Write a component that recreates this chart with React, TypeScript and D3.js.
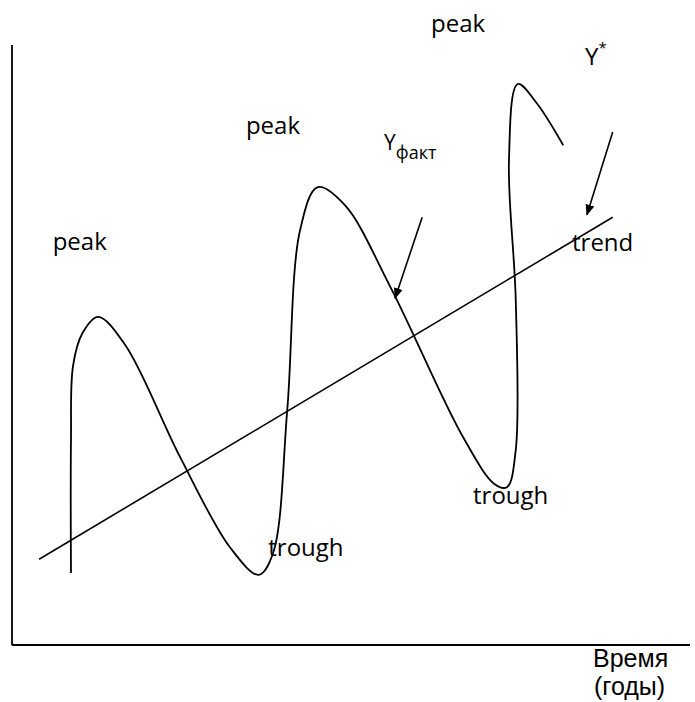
import React from "react";
import * as d3 from "d3";

const W = 695;
const H = 702;

// Business-cycle curve (time, level) in abstract units 0..100
const cycleTime = [8.7, 8.7, 9.0, 10.4, 12.7, 16.7, 24.8, 32.2, 36.4, 38.5, 40.6, 42.5, 45.1, 49.1, 55.8, 66.5, 71.2, 73.0, 74.3, 74.3, 73.3, 74.6, 77.4, 81.3];
const cycleLevel = [12.0, 34.2, 46.5, 52.0, 54.7, 50.0, 31.3, 16.2, 11.7, 15.3, 39.2, 69.2, 76.3, 73.3, 59.7, 34.7, 26.8, 26.3, 32.5, 57.5, 80.8, 93.5, 90.3, 83.3];

// Trend line endpoints
const trendTime = [4.0, 88.6];
const trendLevel = [14.3, 71.3];

// Arrows: [x1, y1, x2, y2]
const arrowYStar = [88.6, 85.5, 84.8, 71.7];
const arrowYFact = [60.5, 71.3, 56.5, 57.8];

// Labels [text, x, y]
const labelTexts = ["peak", "peak", "peak", "trough", "trough", "trend"];
const labelX = [6.0, 34.5, 61.8, 37.8, 68.0, 82.6];
const labelY = [65.8, 85.2, 102.2, 14.8, 23.5, 65.7];

const xScale = d3.scaleLinear().domain([0, 100]).range([12, 690]);
const yScale = d3.scaleLinear().domain([0, 100]).range([645, 45]);

export default function App() {
  const pts: [number, number][] = cycleTime.map((t, i) => [xScale(t), yScale(cycleLevel[i])]);
  const curvePath = d3.line().curve(d3.curveCatmullRom.alpha(0.5))(pts) || "";
  const font = "'Open Sans', sans-serif";
  const arrow = (a: number[]) => (
    <line
      x1={xScale(a[0])}
      y1={yScale(a[1])}
      x2={xScale(a[2])}
      y2={yScale(a[3])}
      stroke="#000"
      strokeWidth={1.6}
      markerEnd="url(#ah)"
    />
  );
  return (
    <svg width={W} height={H} style={{ position: "absolute", left: 0, top: 0, background: "#fff" }}>
      <defs>
        <marker id="ah" viewBox="0 0 10 10" refX="9" refY="5" markerWidth="7" markerHeight="7" orient="auto" markerUnits="strokeWidth">
          <path d="M0,1 L10,5 L0,9 Z" fill="#000" />
        </marker>
      </defs>
      {/* axes */}
      <line x1={xScale(0)} y1={yScale(0)} x2={xScale(0)} y2={yScale(100)} stroke="#000" strokeWidth={1.8} />
      <line x1={xScale(0)} y1={yScale(0)} x2={xScale(100)} y2={yScale(0)} stroke="#000" strokeWidth={1.8} />
      {/* trend */}
      <line x1={xScale(trendTime[0])} y1={yScale(trendLevel[0])} x2={xScale(trendTime[1])} y2={yScale(trendLevel[1])} stroke="#000" strokeWidth={1.6} />
      {/* cycle curve */}
      <path d={curvePath} fill="none" stroke="#000" strokeWidth={1.8} />
      {arrow(arrowYStar)}
      {arrow(arrowYFact)}
      {labelTexts.map((t, i) => (
        <text key={i} x={xScale(labelX[i])} y={yScale(labelY[i])} fontFamily={font} fontSize={24} fill="#000">
          {t}
        </text>
      ))}
      <text x={585} y={65} fontFamily={font} fontSize={24} fill="#000">
        Y<tspan fontSize={15} dy={-12}>*</tspan>
      </text>
      <text x={384} y={150} fontFamily={font} fontSize={21} fill="#000">
        Y<tspan fontSize={18} dy={9}>факт</tspan>
      </text>
      <text x={593} y={667} fontFamily="'Liberation Sans', Arial, sans-serif" fontSize={25} fill="#000">
        Время
      </text>
      <text x={594} y={695} fontFamily="'Liberation Sans', Arial, sans-serif" fontSize={25} fill="#000">
        (годы)
      </text>
    </svg>
  );
}
